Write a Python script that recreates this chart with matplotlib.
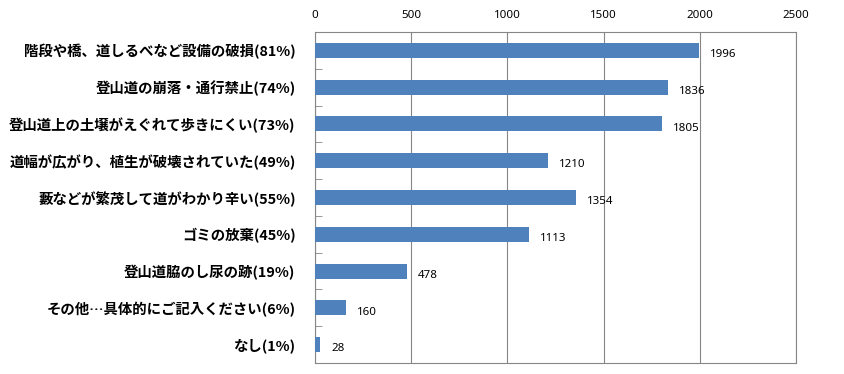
import matplotlib
matplotlib.use('Agg')
import matplotlib.pyplot as plt

plt.rcParams['font.family'] = ['Noto Sans CJK JP', 'DejaVu Sans']

# ── Data ──────────────────────────────────────────────────────────────────────
CATEGORIES = [
    "階段や橋、道しるべなど設備の破損(81%)",
    "登山道の崩落・通行禁止(74%)",
    "登山道上の土壌がえぐれて歩きにくい(73%)",
    "道幅が広がり、植生が破壊されていた(49%)",
    "藪などが繁茂して道がわかり辛い(55%)",
    "ゴミの放棄(45%)",
    "登山道脇のし尿の跡(19%)",
    "その他…具体的にご記入ください(6%)",
    "なし(1%)",
]
COUNTS = [1996, 1836, 1805, 1210, 1354, 1113, 478, 160, 28]
X_TICKS = [0, 500, 1000, 1500, 2000, 2500]

BAR_COLOR = '#4f81bd'
GRID_COLOR = '#868686'
NUM_FONT = ['Noto Sans', 'DejaVu Sans']

fig = plt.figure(figsize=(8.44, 3.74), dpi=100)
ax = fig.add_axes([315 / 844, 1 - 363 / 374, (796 - 315) / 844, (363 - 32) / 374])

pos = list(range(len(CATEGORIES)))
ax.barh(pos, COUNTS, height=0.41, color=BAR_COLOR, zorder=3)

for y, v in zip(pos, COUNTS):
    ax.annotate(str(v), (v, y), xytext=(8, -3), textcoords='offset points',
                ha='left', va='center', fontsize=8.3, family=NUM_FONT, color='black')

ax.set_xlim(0, 2500)
ax.set_ylim(len(CATEGORIES) - 0.5, -0.5)
ax.xaxis.tick_top()
ax.set_xticks(X_TICKS)
ax.set_xticklabels([str(t) for t in X_TICKS], fontsize=8.3, family=NUM_FONT)
ax.tick_params(axis='x', length=0, pad=8)

ax.set_yticks(pos)
ax.set_yticklabels(CATEGORIES, fontsize=10.4, fontweight='bold')
ax.tick_params(axis='y', length=0, pad=14)
ax.set_yticks([p + 0.5 for p in pos[:-1]], minor=True)
ax.tick_params(axis='y', which='minor', direction='in', length=5, color=GRID_COLOR)

ax.grid(axis='x', color=GRID_COLOR, linewidth=0.8, zorder=0)
for s in ax.spines.values():
    s.set_color(GRID_COLOR)
    s.set_linewidth(0.8)

fig.savefig('out.png', dpi=100, facecolor='white')
